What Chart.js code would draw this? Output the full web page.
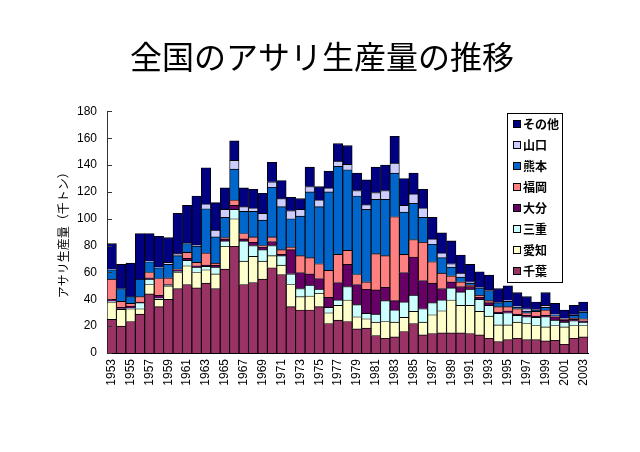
<!DOCTYPE html>
<html>
<head>
<meta charset="utf-8">
<script src="https://cdn.jsdelivr.net/npm/chart.js@4.4.1/dist/chart.umd.min.js"></script>
<style>
html,body{margin:0;padding:0;background:#fff;}
#wrap{width:640px;height:452px;position:relative;}
</style>
</head>
<body>
<div id="wrap"><canvas id="c" width="640" height="452"></canvas></div>
<script>
const years = [];
for (let y = 1953; y <= 2003; y++) years.push(String(y));

const chiba = [25,20,23.5,29,44,34.5,40,48,51,48.5,52,48,62.5,79.5,51,52.5,55,63.5,58.5,34.5,32,32,34.5,22,24.5,23.5,18,18.5,13,11,12,16,22,13.5,14.5,15,15,15,14.5,13.5,11,8.5,10,11,10,10,9,9.5,6.5,11,12];
const aichi = [13,12.5,9.5,4,7,5.5,10,12,14,11.5,10,11,17,20.5,17.5,19.5,13.5,9,7,16.5,10,10.5,10,8,11,16,9,7,10,12.5,11,10.5,9,9.5,14,16.5,24.5,20.5,21,17.5,16.5,12.5,11,12,12,10.5,10.5,11,13,9.5,8.5];
const mie = [0.5,0.5,0.5,4.5,4,1,0.5,1,4,4,2.5,5,4,7,15,8,8.5,7.5,7,8,6,8,3,4,4,10,9,4,6,15.5,9,11.5,12,10,9,8,9,10,12,9,8,8.5,9,5,5,6,7.5,4,3.5,3.5,2.5];
const oita = [1.5,1,1.5,0.5,1,2,0.5,1,1.5,1,1,1.5,1.5,3,1.5,2.5,2,3,1,18,12,8.5,8,7.5,13,16.5,15,18,18,10,7,22,28.5,21,14.5,8.5,4.5,4,2,1.5,2,1,1.5,1,1,1,1,2.5,1.5,1,1];
const fukuoka = [15,4.5,2,4,4,12.5,5,0.5,4.5,2.5,9,1.5,1,4,4,4,1,3.5,3.5,2,12.5,12,11,20,21,10.5,7.5,5.5,27,23.5,62.5,13.5,13,28.5,16,11.5,4.5,3.5,1,1.5,1.5,4,3,4,2,3.5,4,0.5,0.5,1,1.5];
const kumamoto = [7,9.5,5,13,8,8,10,10,6.5,12,33,19.5,15,23,16.5,19,19,37,32,21,29.5,49,42.5,58.5,65.5,60,58.5,54,40.5,42,32.5,31.5,27,18.5,13,11.5,6.5,3.5,1.5,5.5,7.5,3,4,1,1,1,2,1,0.5,2,5];
const yamaguchi = [0.5,0,0,0,0.5,0.5,1.5,1.5,0.5,1,3.5,5,6,6.5,3.5,2.5,5,4,6,6,5,4,5,3,4,4,4,3.5,5,6.5,7.5,5,7,7,4,3.5,2.5,3,1,0.5,0.5,0.5,1,1,2,0.5,1.5,0.5,0.5,0.5,0.5];
const other = [19,18,25,34,20.5,23,18.5,30,28,36.5,27,20.5,16,14.5,14,14,15,14.5,13.5,10,8,14.5,10,12.5,13,14,13,18.5,19,19,20,20,15.5,14,16,15,17,13.5,13,11.5,11,10,10.5,10,9,5.5,9.5,8,6,7,7];

const seriesNames = ['千葉','愛知','三重','大分','福岡','熊本','山口','その他'];
const seriesData = [chiba, aichi, mie, oita, fukuoka, kumamoto, yamaguchi, other];
const seriesColors = ['#993366','#FFFFCC','#CCFFFF','#660066','#FF8080','#0066CC','#CCCCFF','#000080'];
const yTicks = [0,20,40,60,80,100,120,140,160,180];

const innerTicks = {
  id: 'innerTicks',
  afterDraw(chart) {
    const ctx = chart.ctx, ys = chart.scales.y, left = chart.chartArea.left;
    ctx.save();
    ctx.strokeStyle = '#333';
    ctx.lineWidth = 1;
    yTicks.forEach(v => {
      const py = Math.round(ys.getPixelForValue(v)) + 0.5;
      ctx.beginPath();
      ctx.moveTo(left, py);
      ctx.lineTo(left + 5, py);
      ctx.stroke();
    });
    ctx.restore();
  }
};

const boxLegend = {
  id: 'boxLegend',
  afterDraw(chart) {
    const ctx = chart.ctx;
    const x0 = 507.5, y0 = 113.5, w = 55, h = 169;
    ctx.save();
    ctx.fillStyle = '#fff';
    ctx.fillRect(x0, y0, w, h);
    ctx.strokeStyle = '#000';
    ctx.lineWidth = 1;
    ctx.strokeRect(x0, y0, w, h);
    ctx.font = 'bold 12px "Noto Sans CJK JP"';
    ctx.textBaseline = 'middle';
    ctx.textAlign = 'left';
    const n = chart.data.datasets.length;
    for (let k = 0; k < n; k++) {
      const ds = chart.data.datasets[n - 1 - k];
      const cy = 124 + k * 21;
      ctx.fillStyle = ds.backgroundColor;
      ctx.fillRect(513.5, cy - 3.5, 7, 7);
      ctx.strokeStyle = '#000';
      ctx.strokeRect(513.5, cy - 3.5, 7, 7);
      ctx.fillStyle = '#000';
      ctx.fillText(ds.label, 523, cy + 0.5);
    }
    ctx.restore();
  }
};

new Chart(document.getElementById('c'), {
  type: 'bar',
  data: {
    labels: years,
    datasets: seriesNames.map((n, i) => ({
      label: n,
      data: seriesData[i],
      backgroundColor: seriesColors[i],
      borderColor: '#000',
      borderWidth: 0.9,
      barPercentage: 1,
      categoryPercentage: 1
    }))
  },
  options: {
    responsive: false,
    animation: false,
    devicePixelRatio: 1,
    layout: { padding: { left: 56, right: 52, top: 0, bottom: 0 } },
    plugins: {
      legend: { display: false },
      tooltip: { enabled: false },
      title: {
        display: true,
        text: '全国のアサリ生産量の推移',
        color: '#000',
        font: { family: '"Noto Sans CJK JP"', size: 32, weight: 'normal' },
        padding: { top: 38, bottom: 35 }
      }
    },
    scales: {
      x: {
        stacked: true,
        grid: { display: false, drawTicks: false },
        border: { display: true, color: '#000', width: 1 },
        ticks: {
          autoSkip: false,
          maxRotation: 90,
          minRotation: 90,
          padding: 6,
          color: '#000',
          font: { family: '"Liberation Sans", Arial', size: 12 },
          callback: function(v, i) { return i % 2 === 0 ? this.getLabelForValue(v) : ''; }
        },
        afterFit(s) { s.height = 99; }
      },
      y: {
        stacked: true,
        min: 0,
        max: 180,
        grid: { display: false, drawTicks: false },
        border: { display: true, color: '#333', width: 1 },
        afterBuildTicks(s) { s.ticks = yTicks.map(v => ({ value: v })); },
        ticks: {
          padding: 10,
          color: '#000',
          font: { family: '"Liberation Sans", Arial', size: 12 }
        },
        title: {
          display: true,
          text: 'アサリ生産量（千トン）',
          color: '#000',
          font: { family: '"Noto Sans CJK JP"', size: 12 },
          padding: { top: 0, bottom: 0 }
        },
        afterFit(s) { s.width = 51; }
      }
    }
  },
  plugins: [innerTicks, boxLegend]
});
</script>
</body>
</html>
